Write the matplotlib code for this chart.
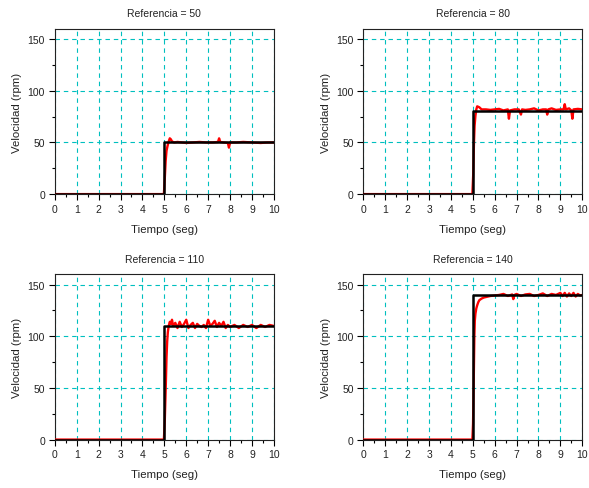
import matplotlib
matplotlib.use("Agg")
import matplotlib.pyplot as plt
from matplotlib.ticker import MultipleLocator

# referencias de cada ensayo
refs = [50, 80, 110, 140]

t50 = [0, 4.98, 5.02, 5.06, 5.10, 5.15, 5.20, 5.25, 5.30, 5.35, 5.45, 5.6, 5.8, 6.0, 6.3,
       6.6, 6.9, 7.2, 7.45, 7.5, 7.55, 7.7, 7.9, 7.95, 8.0, 8.3, 8.6, 9.0, 9.4, 9.7, 10]
v50 = [0, 0, 15, 32, 42, 47, 51, 54, 53, 51, 50, 50.5, 50, 49.5, 50,
       50.5, 50, 50, 50.5, 54, 50.5, 50, 49.5, 45, 50, 50, 50.5, 50, 49.5, 50, 50]

t80 = [0, 4.98, 5.02, 5.05, 5.08, 5.12, 5.16, 5.2, 5.3, 5.4, 5.6, 5.8, 6.0, 6.2, 6.4,
       6.6, 6.65, 6.7, 6.9, 7.1, 7.2, 7.25, 7.4, 7.6, 7.8, 8.0, 8.2, 8.35, 8.4, 8.45,
       8.6, 8.8, 9.0, 9.15, 9.2, 9.25, 9.4, 9.5, 9.55, 9.6, 9.8, 10]
v80 = [0, 0, 20, 48, 66, 76, 82, 85, 84, 82, 82, 81.5, 82, 82.5, 81,
       82, 73, 81, 82, 82, 77, 82, 81.5, 82, 83, 81, 82, 82, 77, 82,
       83, 81.5, 82, 82, 87, 82, 83, 81, 73, 82, 82.5, 82]

t110 = [0, 4.98, 5.02, 5.05, 5.07, 5.1, 5.13, 5.16, 5.2, 5.25, 5.3, 5.35, 5.4, 5.5, 5.6,
        5.7, 5.8, 5.9, 6.0, 6.1, 6.2, 6.3, 6.4, 6.5, 6.6, 6.7, 6.8, 6.9, 7.0, 7.1,
        7.2, 7.3, 7.4, 7.5, 7.6, 7.7, 7.8, 7.9, 8.0, 8.2, 8.4, 8.6, 8.8, 9.0, 9.2,
        9.4, 9.6, 9.8, 10]
v110 = [0, 0, 18, 40, 55, 80, 95, 104, 110, 114, 112, 116, 110, 113, 108,
        114, 109, 112, 116, 108, 111, 113, 108, 112, 110, 109, 111, 108, 116, 110,
        112, 115, 109, 113, 110, 114, 108, 111, 109, 111, 108, 111, 109, 111, 108,
        111, 109, 111, 110]

t140 = [0, 4.98, 5.01, 5.03, 5.05, 5.07, 5.09, 5.12, 5.16, 5.2, 5.25, 5.3, 5.4, 5.5, 5.6,
        5.8, 6.0, 6.2, 6.4, 6.6, 6.8, 6.85, 6.9, 7.0, 7.2, 7.4, 7.6, 7.8, 8.0, 8.2,
        8.4, 8.6, 8.8, 9.0, 9.1, 9.2, 9.3, 9.4, 9.5, 9.6, 9.7, 9.8, 9.9, 10]
v140 = [0, 0, 15, 40, 70, 100, 115, 122, 127, 130, 133, 135, 136.5, 137.5, 138,
        139, 139.5, 140, 141, 139, 140.5, 136, 140, 141, 139, 140.5, 141, 139, 140, 141.5,
        139, 141, 140, 142, 139, 142, 138.5, 141.5, 139, 142, 138.5, 141, 139.5, 140]

t_med = [t50, t80, t110, t140]
v_med = [v50, v80, v110, v140]

t_step = [0, 5, 5, 10]

plt.rcParams['font.family'] = ['Liberation Sans', 'DejaVu Sans']
plt.rcParams['font.size'] = 7.5

fig = plt.figure(figsize=(5.89, 4.89), dpi=100)
pos = [[0.093, 0.601, 0.372, 0.338],
       [0.617, 0.601, 0.3715, 0.338],
       [0.093, 0.099, 0.372, 0.338],
       [0.617, 0.099, 0.3715, 0.338]]
grid_col = '#00bfbf'
txt_col = '#222222'

for i in range(4):
    ax = fig.add_axes(pos[i])
    r = refs[i]
    ax.plot(t_med[i], v_med[i], color='red', lw=1.7, zorder=3)
    ax.plot(t_step, [0, 0, r, r], color='black', lw=1.8, zorder=4)
    ax.set_xlim(0, 10)
    ax.set_ylim(0, 160)
    ax.xaxis.set_major_locator(MultipleLocator(1))
    ax.xaxis.set_minor_locator(MultipleLocator(0.5))
    ax.yaxis.set_major_locator(MultipleLocator(50))
    ax.yaxis.set_minor_locator(MultipleLocator(25))
    ax.grid(True, which='major', color=grid_col, ls=(0, (4, 3.5)), lw=0.8)
    ax.set_axisbelow(True)
    ax.tick_params(which='major', direction='out', length=4, width=0.8,
                   colors='black', labelcolor=txt_col, pad=3)
    ax.tick_params(which='minor', direction='out', length=2, width=0.8)
    for s in ax.spines.values():
        s.set_linewidth(0.8)
        s.set_color('#222222')
    ax.set_title('Referencia = %d' % r, fontsize=7.5, color=txt_col, pad=9)
    ax.set_xlabel('Tiempo (seg)', color=txt_col, labelpad=7, fontsize=8.2)
    ax.set_ylabel('Velocidad (rpm)', color=txt_col, labelpad=4, fontsize=8.2)

plt.savefig('out.png', dpi=100)
